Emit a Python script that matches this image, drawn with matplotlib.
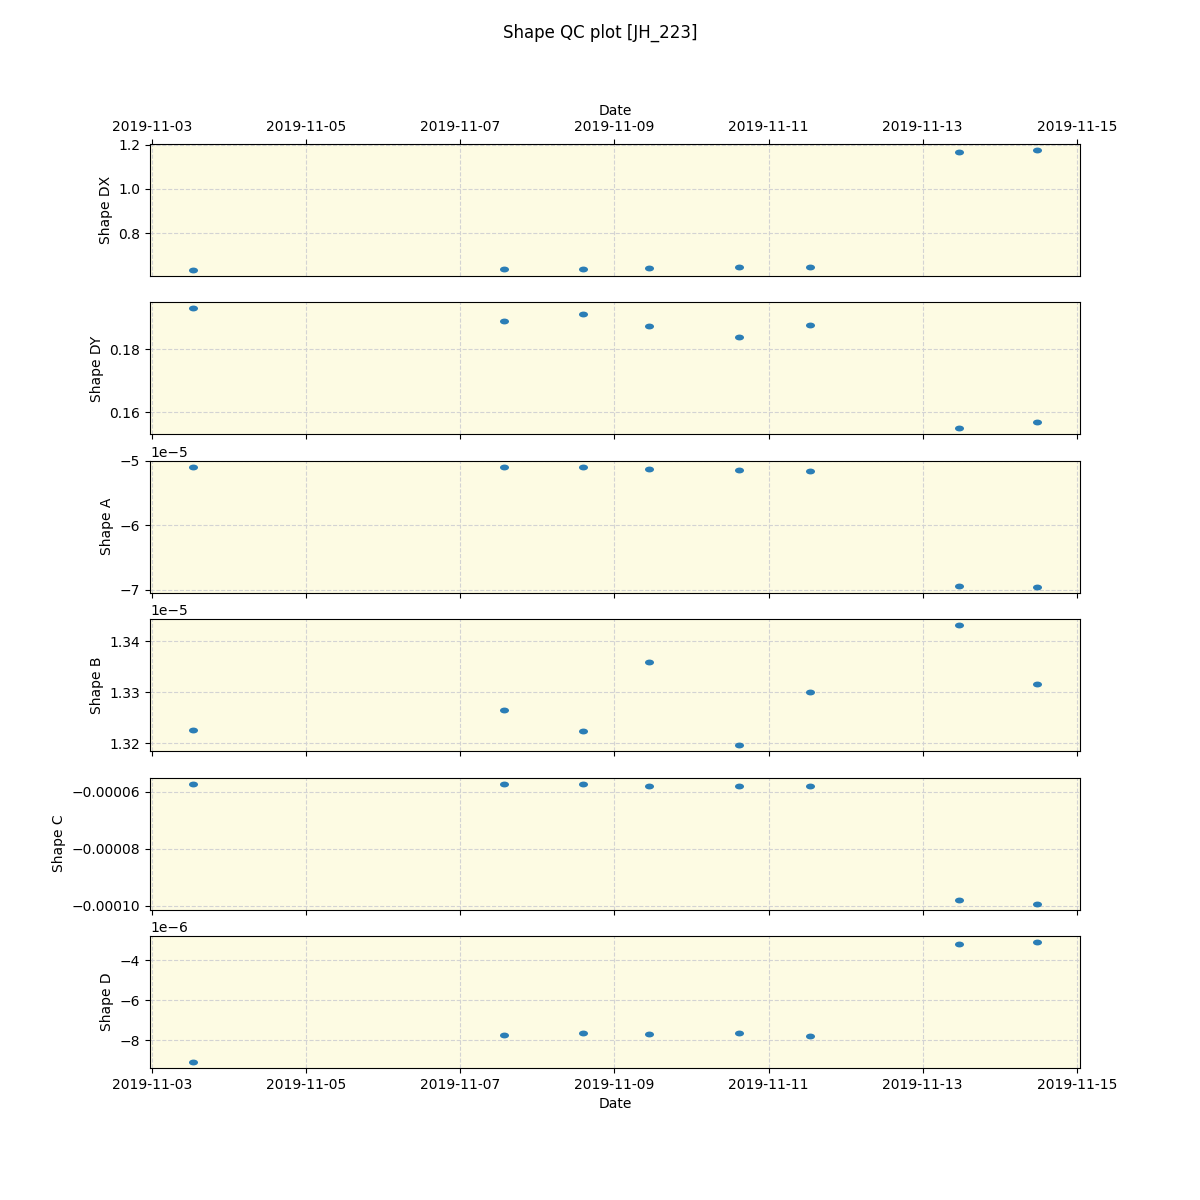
import numpy as np
import pandas as pd
import matplotlib
matplotlib.use("Agg")
import matplotlib.pyplot as plt
import matplotlib.dates as mdates
from matplotlib.path import Path

# observation times
dates = pd.to_datetime([
    "2019-11-03 12:48", "2019-11-07 13:30", "2019-11-08 14:10", "2019-11-09 10:50",
    "2019-11-10 14:53", "2019-11-11 13:00", "2019-11-13 11:16", "2019-11-14 11:34",
])

shape_dx = [0.632, 0.636, 0.636, 0.641, 0.645, 0.645, 1.168, 1.177]
shape_dy = [0.1930, 0.1889, 0.1911, 0.1873, 0.1838, 0.1876, 0.1549, 0.1568]
shape_a = [-5.093e-5, -5.093e-5, -5.093e-5, -5.124e-5, -5.14e-5, -5.155e-5, -6.94e-5, -6.955e-5]
shape_b = [1.32255e-5, 1.32647e-5, 1.32235e-5, 1.33588e-5, 1.31961e-5, 1.33e-5, 1.34314e-5, 1.33157e-5]
shape_c = [-5.72e-5, -5.75e-5, -5.75e-5, -5.79e-5, -5.82e-5, -5.82e-5, -9.82e-5, -9.93e-5]
shape_d = [-9.1e-6, -7.75e-6, -7.65e-6, -7.7e-6, -7.65e-6, -7.8e-6, -3.2e-6, -3.1e-6]

labels = ["Shape DX", "Shape DY", "Shape A", "Shape B", "Shape C", "Shape D"]
series = [shape_dx, shape_dy, shape_a, shape_b, shape_c, shape_d]

# slightly flattened dot, like overlapping exposures
circ = Path.unit_circle()
oval = Path(circ.vertices * [1.0, 0.65], circ.codes)

fig, axes = plt.subplots(6, 1, figsize=(12, 12), dpi=100, sharex=True)
fig.suptitle("Shape QC plot [JH_223]")

for ax, lab, vals in zip(axes, labels, series):
    ax.set_facecolor("#fdfbe3")
    ax.plot(dates, vals, linestyle="none", marker=oval, markersize=6.5,
            markeredgewidth=0, color="tab:blue", alpha=0.95)
    ax.set_ylabel(lab)
    ax.grid(True, linestyle="--", color="lightgray")

axes[0].xaxis.tick_top()
axes[0].xaxis.set_label_position("top")
axes[0].set_xlabel("Date")
axes[0].tick_params(axis="x", labeltop=True)
axes[-1].set_xlabel("Date")

axes[-1].set_xlim(pd.Timestamp("2019-11-02 23:22"), pd.Timestamp("2019-11-15 01:00"))
axes[-1].xaxis.set_major_locator(mdates.DayLocator(bymonthday=range(1, 32, 2)))
axes[-1].xaxis.set_major_formatter(mdates.DateFormatter("%Y-%m-%d"))

fig.savefig("out.png")
